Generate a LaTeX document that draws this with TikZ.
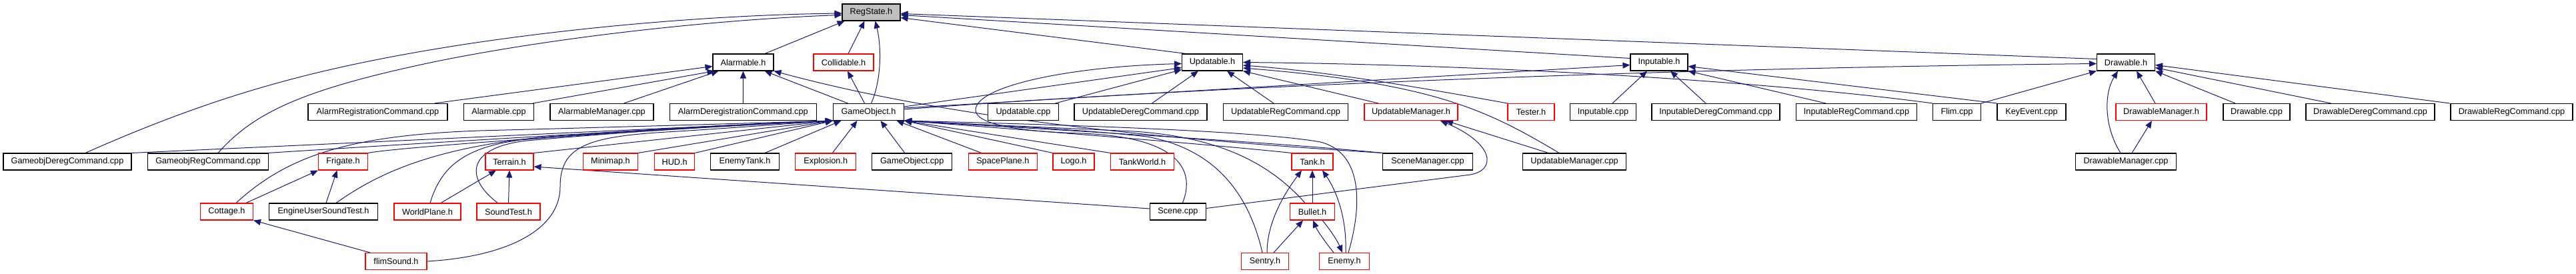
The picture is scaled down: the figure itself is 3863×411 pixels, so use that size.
\documentclass[tikz,border=0pt]{standalone}
\usepackage{fontspec}
\setmainfont{Liberation Sans}
\usetikzlibrary{arrows.meta}
\definecolor{edgecol}{HTML}{191970}
\definecolor{regfill}{HTML}{BFBFBF}
\newcommand\nodefont{\fontsize{12.7pt}{14pt}\selectfont}
\pgfdeclarelayer{bg}
\pgfsetlayers{bg,main}
\tikzset{
  nb/.style={draw=black, fill=white, line width=1.1pt, minimum height=25pt, inner sep=0pt, font=\nodefont},
  nr/.style={nb, draw=red},
  e/.style={draw=edgecol, line width=1pt, -{Triangle[length=11pt,width=9pt]}}
}
\begin{document}
\begin{tikzpicture}[x=1pt,y=-1pt]
\path[use as bounding box] (0,0) rectangle (3863,411);
% row 0
\node[nb, fill=regfill, minimum width=87pt] (rs) at (1306.5,18.5) {RegState.h};
% row 1
\node[nb, minimum width=91pt] (alh) at (1114.5,93.5) {Alarmable.h};
\node[nr, minimum width=90pt] (col) at (1265,93.5) {Collidable.h};
\node[nb, minimum width=91pt] (uph) at (1818,93.5) {Updatable.h};
\node[nb, minimum width=86pt] (iph) at (2488,93.5) {Inputable.h};
\node[nb, minimum width=87pt] (drh) at (3188,93.5) {Drawable.h};
% row 2
\node[nb, minimum width=209pt] (arc) at (566.5,168) {AlarmRegistrationCommand.cpp};
\node[nb, minimum width=105pt] (acp) at (748,168) {Alarmable.cpp};
\node[nb, minimum width=155pt] (amc) at (902.5,168) {AlarmableManager.cpp};
\node[nb, minimum width=220pt] (adc) at (1114.3,168) {AlarmDeregistrationCommand.cpp};
\node[nb, minimum width=106pt] (go) at (1302.5,168) {GameObject.h};
\node[nb, minimum width=106pt] (ucp) at (1534.5,168) {Updatable.cpp};
\node[nb, minimum width=199pt] (udc) at (1710.5,168) {UpdatableDeregCommand.cpp};
\node[nb, minimum width=187pt] (urc) at (1928,168) {UpdatableRegCommand.cpp};
\node[nr, minimum width=140pt] (umh) at (2116,168) {UpdatableManager.h};
\node[nr, minimum width=70pt] (tst) at (2296,168) {Tester.h};
\node[nb, minimum width=99pt] (icp) at (2404,168) {Inputable.cpp};
\node[nb, minimum width=192pt] (idc) at (2573,168) {InputableDeregCommand.cpp};
\node[nb, minimum width=181pt] (irc) at (2784,168) {InputableRegCommand.cpp};
\node[nb, minimum width=72pt] (flm) at (2934.5,168) {Flim.cpp};
\node[nb, minimum width=103pt] (kev) at (3046.5,168) {KeyEvent.cpp};
\node[nr, minimum width=136pt] (dmh) at (3241,168) {DrawableManager.h};
\node[nb, minimum width=100pt] (dcp) at (3384,168) {Drawable.cpp};
\node[nb, minimum width=193pt] (ddc) at (3554.5,168) {DrawableDeregCommand.cpp};
\node[nb, minimum width=183pt] (drc) at (3766.5,168) {DrawableRegCommand.cpp};
% row 3
\node[nb, minimum width=192pt] (gdc) at (101,242.5) {GameobjDeregCommand.cpp};
\node[nb, minimum width=181pt] (grc) at (312,242.5) {GameobjRegCommand.cpp};
\node[nr, minimum width=74pt] (fri) at (514.5,242.5) {Frigate.h};
\node[nr, minimum width=72pt] (ter) at (764,242.5) {Terrain.h};
\node[nr, minimum width=82pt] (mmp) at (915.5,242.5) {Minimap.h};
\node[nr, minimum width=60pt] (hud) at (1011.7,242.5) {HUD.h};
\node[nb, minimum width=103pt] (etk) at (1117,242.5) {EnemyTank.h};
\node[nr, minimum width=91pt] (exp) at (1238.3,242.5) {Explosion.h};
\node[nb, minimum width=120pt] (gcp) at (1367.7,242.5) {GameObject.cpp};
\node[nr, minimum width=103pt] (spl) at (1503.8,242.5) {SpacePlane.h};
\node[nr, minimum width=62pt] (logo) at (1610,242.5) {Logo.h};
\node[nr, minimum width=95pt] (tkw) at (1713,242.5) {TankWorld.h};
\node[nr, minimum width=62pt] (tank) at (1968,242.5) {Tank.h};
\node[nb, minimum width=135pt] (smc) at (2141,242.5) {SceneManager.cpp};
\node[nb, minimum width=155pt] (umc) at (2361,242.5) {UpdatableManager.cpp};
\node[nb, minimum width=151pt] (dmc) at (3188,242.5) {DrawableManager.cpp};
% row 4
\node[nr, minimum width=79pt] (cot) at (340,317.5) {Cottage.h};
\node[nb, minimum width=163pt] (eus) at (485,317.5) {EngineUserSoundTest.h};
\node[nr, minimum width=100pt] (wpl) at (641,317.5) {WorldPlane.h};
\node[nr, minimum width=95pt] (snd) at (762.5,317.5) {SoundTest.h};
\node[nb, minimum width=84pt] (scn) at (1766.4,317.5) {Scene.cpp};
\node[nr, minimum width=67pt] (bul) at (1968,317.5) {Bullet.h};
% row 5
\node[nr, minimum width=92pt] (fsd) at (594,392) {flimSound.h};
\node[nr, minimum width=71pt] (sen) at (1897,392) {Sentry.h};
\node[nr, minimum width=75pt] (enm) at (2016,392) {Enemy.h};

\begin{pgfonlayer}{bg}
% to RegState.h
\draw[e] ([xshift=32.5pt]alh.north) -- ([xshift=-40pt]rs.south);
\draw[e] ([xshift=7pt]col.north) -- ([xshift=-10pt]rs.south);
\draw[e] ([xshift=4pt]go.north) .. controls (1322,120) and (1322,70) .. ([xshift=6pt]rs.south);
\draw[e] ([xshift=27pt]gdc.north) .. controls (330,140) and (480,100) .. (700,66) .. controls (900,36) and (1100,22) .. ([yshift=-1.5pt]rs.west);
\draw[e] ([xshift=15pt]grc.north) .. controls (380,170) and (450,135) .. (650,93) .. controls (850,52) and (1100,28) .. ([yshift=-4pt]rs.west);
\draw[e] ([xshift=-40pt]uph.north) -- ([yshift=-8pt]rs.east);
\draw[e] ([yshift=6pt]iph.west) -- ([yshift=-4pt]rs.east);
\draw[e] ([yshift=5pt]drh.west) -- ([yshift=-2pt]rs.east);
% to Alarmable.h
\draw[e] ([xshift=85pt]arc.north) -- ([yshift=-6pt]alh.west);
\draw[e] ([xshift=51pt]acp.north) -- ([xshift=-43pt]alh.south);
\draw[e] ([xshift=33pt]amc.north) -- ([xshift=-37pt]alh.south);
\draw[e] (adc.north) -- (alh.south);
\draw[e] ([xshift=-31pt]go.north) -- ([xshift=32pt]alh.south);
\draw[e] (smc.north west) .. controls (1800,212) and (1450,185) .. (alh.south east);
% to Collidable.h
\draw[e] ([xshift=-6pt]go.north) -- ([xshift=6pt]col.south);
% to GameObject.h
\draw[e] ([xshift=96pt]gdc.north) .. controls (500,216) and (1000,192) .. (go.south west);
\draw[e] ([xshift=90pt]grc.north) .. controls (550,220) and (1000,192) .. (go.south west);
\draw[e] (fri.north east) .. controls (600,220) and (1000,193) .. (go.south west);
\draw[e] ([xshift=14pt]cot.north) .. controls (430,235) and (520,203) .. (720,196) .. controls (950,190) and (1150,184) .. (go.south west);
\draw[e] ([xshift=19pt]eus.north) .. controls (560,265) and (640,222) .. (820,205) .. controls (1000,192) and (1150,185) .. (go.south west);
\draw[e] ([xshift=4pt]wpl.north) .. controls (660,255) and (690,222) .. (780,210) .. controls (950,195) and (1100,187) .. (go.south west);
\draw[e] ([xshift=-16pt]snd.north) .. controls (700,270) and (695,222) .. (790,211) .. controls (950,197) and (1100,187) .. (go.south west);
\draw[e] (fsd.east) .. controls (760,385) and (840,345) .. (840,280) .. controls (840,220) and (880,205) .. (1000,198) .. controls (1100,192) and (1200,184) .. (go.south west);
\draw[e] (ter.north east) -- (go.south west);
\draw[e] (mmp.north east) -- (go.south west);
\draw[e] (hud.north east) -- (go.south west);
\draw[e] ([xshift=30pt]etk.north) -- ([xshift=-41pt]go.south);
\draw[e] ([xshift=10pt]exp.north) -- ([xshift=-17pt]go.south);
\draw[e] ([xshift=-11pt]gcp.north) -- ([xshift=18pt]go.south);
\draw[e] ([xshift=-32pt]spl.north) -- ([xshift=42pt]go.south);
\draw[e] (logo.north west) -- (go.south east);
\draw[e] (tkw.north west) -- (go.south east);
\draw[e] (tank.north west) .. controls (1800,215) and (1500,192) .. (go.south east);
\draw[e] (smc.north west) .. controls (1900,212) and (1500,190) .. (go.south east);
\draw[e] ([xshift=-11pt]bul.north) .. controls (1900,240) and (1820,205) .. (1700,197) .. controls (1550,190) and (1420,185) .. (go.south east);
\draw[e] ([xshift=-4pt]sen.north) .. controls (1875,300) and (1830,225) .. (1720,205) .. controls (1600,192) and (1450,186) .. (go.south east);
\draw[e] ([xshift=6pt]enm.north) .. controls (2045,300) and (2040,228) .. (1980,213) .. controls (1880,195) and (1550,186) .. (go.south east);
% to Updatable.h
\draw[e] ([yshift=8pt]go.east) -- ([yshift=-8pt]uph.west);
\draw[e] ([xshift=48pt]ucp.north) -- ([yshift=-11pt]uph.west);
\draw[e] ([xshift=17pt]udc.north) -- ([xshift=-21pt]uph.south);
\draw[e] ([xshift=-18pt]urc.north) -- ([xshift=22pt]uph.south);
\draw[e] ([xshift=-49pt]umh.north) -- (uph.south east);
\draw[e] ([xshift=7pt]scn.north) .. controls (1795,250) and (1760,205) .. (1620,200) .. controls (1520,197) and (1463,185) .. (1463,165) .. controls (1463,130) and (1600,100) .. ([yshift=-2pt]uph.west);
\draw[e] (tst.north west) .. controls (2150,135) and (2000,108) .. ([yshift=-4.5pt]uph.east);
\draw[e] ([xshift=-23pt]umc.north) .. controls (2230,165) and (2150,125) .. ([yshift=-8.5pt]uph.east);
\draw[e] (flm.north west) .. controls (2700,128) and (2300,98) .. (uph.east);
% to UpdatableManager.h
\draw[e] ([xshift=-39pt]umc.north) -- ([xshift=52pt]umh.south);
\draw[e] ([yshift=5pt]scn.east) -- (2205,262) .. controls (2245,255) and (2240,215) .. ([xshift=44pt]umh.south);
% to Inputable.h
\draw[e] ([yshift=6pt]go.east) -- ([yshift=-4pt]iph.west);
\draw[e] ([xshift=14pt]icp.north) -- ([xshift=-18pt]iph.south);
\draw[e] ([xshift=-15pt]idc.north) -- ([xshift=17pt]iph.south);
\draw[e] ([xshift=-46pt]irc.north) -- (iph.south east);
\draw[e] (kev.north west) -- ([yshift=-6pt]iph.east);
% to Drawable.h
\draw[e] ([yshift=4pt]go.east) .. controls (1800,130) and (2500,102) .. ([yshift=-2pt]drh.west);
\draw[e] (flm.north east) -- (drh.south west);
\draw[e] ([xshift=-9pt]dmh.north) -- ([xshift=16pt]drh.south);
\draw[e] ([xshift=-8pt]dmc.north) .. controls (3155,190) and (3155,140) .. ([xshift=-12pt]drh.south);
\draw[e] ([xshift=-32pt]dcp.north) -- (drh.south east);
\draw[e] ([xshift=-59pt]ddc.north) -- ([yshift=-8pt]drh.east);
\draw[e] ([xshift=-93pt]drc.north) -- ([yshift=-4pt]drh.east);
% to DrawableManager.h
\draw[e] ([xshift=9pt]dmc.north) -- ([xshift=-14pt]dmh.south);
% to Frigate.h
\draw[e] ([xshift=29pt]cot.north) -- (fri.south west);
\draw[e] ([xshift=4pt]eus.north) -- ([xshift=-9pt]fri.south);
% to Cottage.h
\draw[e] ([xshift=-39pt]fsd.north) -- (cot.south east);
% to Terrain.h
\draw[e] ([xshift=20pt]wpl.north) -- ([xshift=-20pt]ter.south);
\draw[e] (snd.north) -- (ter.south);
\draw[e] ([yshift=4.5pt]scn.west) -- ([yshift=-7.5pt]ter.east);
% to Tank.h
\draw[e] (bul.north) -- (tank.south);
\draw[e] ([xshift=3pt]sen.north) .. controls (1900,330) and (1930,285) .. ([xshift=-16pt]tank.south);
\draw[e] ([xshift=2pt]enm.north) .. controls (2020,320) and (2000,280) .. ([xshift=15pt]tank.south);
% to Bullet.h
\draw[e] ([xshift=13pt]sen.north) -- ([xshift=-14pt]bul.south);
\draw[e] ([xshift=-16pt]enm.north) .. controls (1985,360) and (1975,345) .. ([xshift=1pt]bul.south);
% to Enemy.h
\draw[e] ([xshift=15pt]bul.south) .. controls (1995,345) and (2005,360) .. ([xshift=-3pt]enm.north);
\end{pgfonlayer}
\end{tikzpicture}
\end{document}
